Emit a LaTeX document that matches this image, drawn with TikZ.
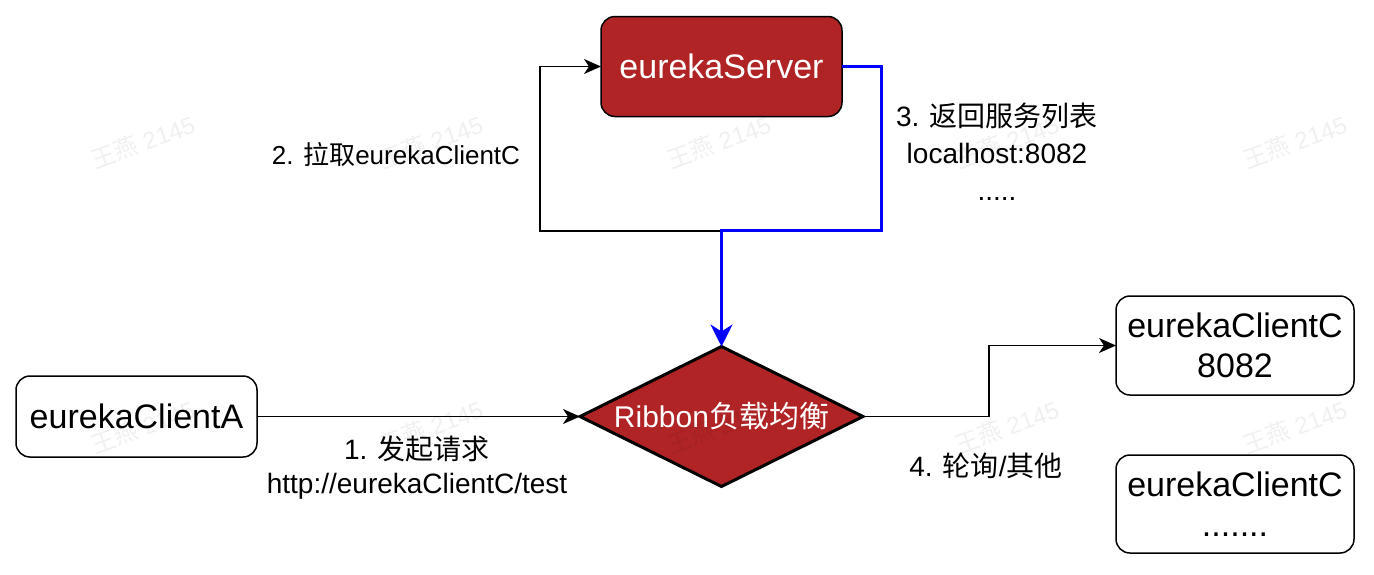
\documentclass[tikz,border=0pt]{standalone}
\usepackage{fontspec}
\setmainfont{Liberation Sans}
\newfontfamily\cjk{Noto Sans CJK SC}
\newcommand\zh[1]{{\cjk #1}}
\usetikzlibrary{shapes.geometric,arrows.meta}
\definecolor{boxred}{HTML}{B02426}
\definecolor{lineblue}{HTML}{0000FF}
\begin{document}
\begin{tikzpicture}[x=1pt,y=-1pt,
  every node/.style={inner sep=0pt, outer sep=0pt},
  rbox/.style={draw=black, line width=1.5pt, rounded corners=14pt, align=center,
    font=\fontsize{34}{40}\selectfont},
  rhomb/.style={diamond, aspect=2.02, draw=black, line width=3pt, fill=boxred, text=white,
    minimum width=283pt, minimum height=140pt, font=\fontsize{30}{36}\selectfont},
  lbl/.style={align=center, font=\fontsize{28}{34}\selectfont},
  wm/.style={rotate=20, text=black, text opacity=0.06, font=\fontsize{24}{28}\selectfont},
  blk/.style={draw=black, line width=1.5pt, -{Stealth[length=17pt,width=15pt,inset=5pt]}},
  blu/.style={draw=lineblue, line width=3pt, -{Stealth[length=22pt,width=22pt,inset=7pt]}}
]
\fill[white] (0,0) rectangle (1374,574);
\useasboundingbox (0,0) rectangle (1374,574);

% nodes
\node[rbox, fill=boxred, text=white, minimum width=241pt, minimum height=100pt] (S) at (721.5,66.5) {eurekaServer};
\node[rbox, minimum width=241pt, minimum height=81pt] (A) at (136.5,416.5) {eurekaClientA};
\node[rbox, minimum width=238pt, minimum height=99pt] (C1) at (1235,345.5) {eurekaClientC\\8082};
\node[rbox, minimum width=238pt, minimum height=98pt] (C2) at (1235,504) {eurekaClientC\\.......};
\node[rhomb] (R) at (721.5,416.5) {Ribbon\zh{负载均衡}};

% bend points
\coordinate (b1) at (540,231);
\coordinate (b2) at (881,230);
\coordinate (b3) at (989,416.5);

% connectors
\draw[blk] (A.east) -- (R.west);
\draw[blk] (R.north) |- (b1) |- (S.west);
\draw[blu] (S.east) -| (b2) -| (R.north);
\draw[blk] (R.east) -- (b3) |- (C1.west);

% labels
\node[lbl] (l1) at (417,468) {1. \zh{发起请求}\\http://eurekaClientC/test};
\node[lbl, font=\fontsize{26}{32}\selectfont] (l2) at (396,155) {2. \zh{拉取}eurekaClientC};
\node[lbl, font=\fontsize{28}{37}\selectfont] (l3) at (997,152) {3. \zh{返回服务列表}\\localhost:8082\\.....};
\node[lbl] (l4) at (986,466) {4. \zh{轮询}/\zh{其他}};

% watermarks
\foreach \x in {143,431,719,1007,1295}
  \foreach \y in {142,427}
    \node[wm] (wm-\x-\y) at (\x,\y) {\zh{王燕} 2145};
\end{tikzpicture}
\end{document}
